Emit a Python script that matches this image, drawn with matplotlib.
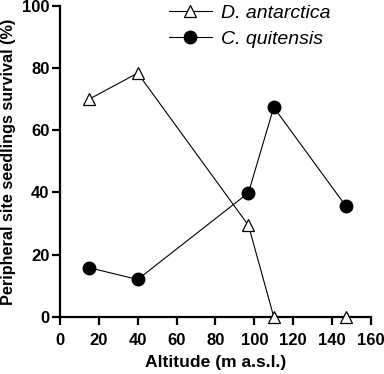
import matplotlib.pyplot as plt

plt.rcParams['font.family'] = ['Liberation Sans', 'DejaVu Sans']

altitude = [15, 40, 97, 110, 147]
d_antarctica = [70, 78.4, 29.4, 0, 0]
c_quitensis = [15.8, 12.0, 39.9, 67.4, 35.7]

fig = plt.figure(figsize=(3.84, 3.74), dpi=100)
ax = fig.add_axes([0.156, 0.153, 0.81, 0.831])

ax.plot(altitude, d_antarctica, color='black', lw=0.8, marker='^', ms=8.5,
        mfc='white', mec='black', mew=0.9, label='D. antarctica', clip_on=False, zorder=3)
ax.plot(altitude, c_quitensis, color='black', lw=0.8, marker='o', ms=9,
        mfc='black', mec='black', label='C. quitensis', clip_on=False, zorder=3)

ax.set_xlim(0, 160)
ax.set_ylim(0, 100)
ax.set_xticks(range(0, 161, 20))
ax.set_yticks(range(0, 101, 20))

for s in ['top', 'right']:
    ax.spines[s].set_visible(False)
for s in ['left', 'bottom']:
    ax.spines[s].set_linewidth(1.6)
ax.tick_params(width=1.6, length=6, labelsize=12)
ax.tick_params(axis='x', pad=6)
ax.tick_params(axis='y', pad=1.5)
for lab in ax.get_xticklabels() + ax.get_yticklabels():
    lab.set_fontweight('bold')

ax.set_xlabel('Altitude (m a.s.l.)', fontsize=12.6, fontweight='bold', labelpad=5)
ax.set_ylabel('Peripheral site seedlings survival (%)', fontsize=11.7, fontweight='bold', labelpad=4)

leg = ax.legend(loc='upper left', bbox_to_anchor=(0.415, 1.015), bbox_transform=fig.transFigure,
                frameon=False, prop={'style': 'italic', 'size': 14}, handlelength=2.2,
                handletextpad=0.45, labelspacing=0.45, borderpad=0)

fig.savefig('out.png', dpi=100)
